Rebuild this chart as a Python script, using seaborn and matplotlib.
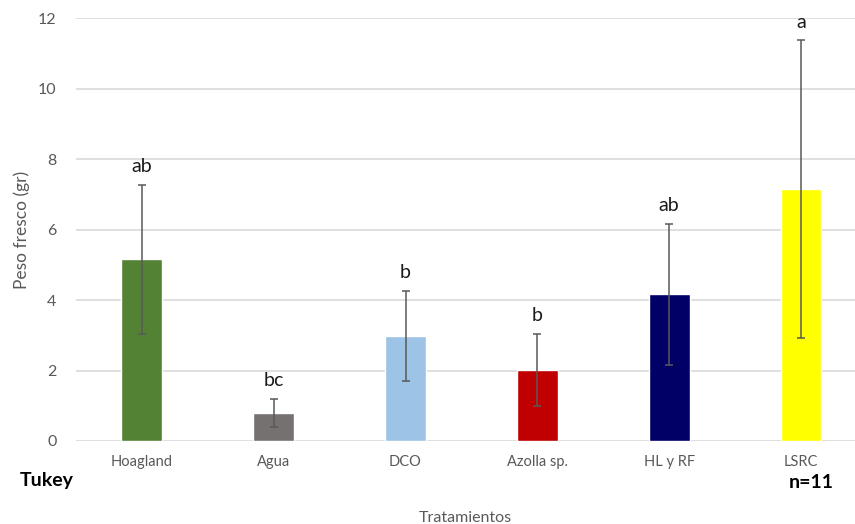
import matplotlib
matplotlib.use("Agg")
import matplotlib.pyplot as plt
import seaborn as sns
import numpy as np

categories = ["Hoagland", "Agua", "DCO", "Azolla sp.", "HL y RF", "LSRC"]
means = [5.15, 0.79, 2.97, 2.01, 4.17, 7.15]
errors = [2.12, 0.40, 1.28, 1.02, 2.00, 4.22]
letters = ["ab", "bc", "b", "b", "ab", "a"]
colors = ["#548235", "#767171", "#9DC3E6", "#C00000", "#000066", "#FFFF00"]
yticks = [0, 2, 4, 6, 8, 10, 12]

sns.set_theme(style="white")
plt.rcParams["font.family"] = ["Lato", "DejaVu Sans"]

fig = plt.figure(figsize=(8.55, 5.24), dpi=100)
ax = fig.add_axes([0.0889, 0.1584, 0.9111, 0.8072])

sns.barplot(x=categories, y=means, hue=categories, palette=colors,
            legend=False, width=0.31, ax=ax, saturation=1, zorder=3)
x = np.arange(len(categories))
ax.errorbar(x, means, yerr=errors, fmt="none", ecolor="#595959",
            elinewidth=1.1, capsize=3.2, capthick=1.1, zorder=4)
for xi, m, e, lab in zip(x, means, errors, letters):
    ax.annotate(lab, (xi, m + e), xytext=(0, 7), textcoords="offset points",
                ha="center", va="bottom", fontsize=14, color="#1a1a1a")

ax.set_ylim(0, 12)
ax.set_xlim(-0.5, 5.41)
ax.set_yticks(yticks)
ax.yaxis.grid(True, color="#d9d9d9", linewidth=1.2, zorder=0)
ax.set_axisbelow(True)
for s in ax.spines.values():
    s.set_visible(False)
ax.tick_params(axis="both", length=0, labelsize=10.5, colors="#595959")
ax.tick_params(axis="y", labelsize=11.5, pad=14)
ax.tick_params(axis="x", pad=10)
ax.set_ylabel("Peso fresco (gr)", fontsize=12.5, color="#595959", labelpad=6)
ax.set_xlabel("Tratamientos", fontsize=11.5, color="#595959", labelpad=30)

fig.text(0.023, 0.072, "Tukey", fontsize=14, fontweight="bold", color="#000000")
fig.text(0.922, 0.068, "n=11", fontsize=14, fontweight="bold", color="#000000")

fig.savefig("out.png", dpi=100)
